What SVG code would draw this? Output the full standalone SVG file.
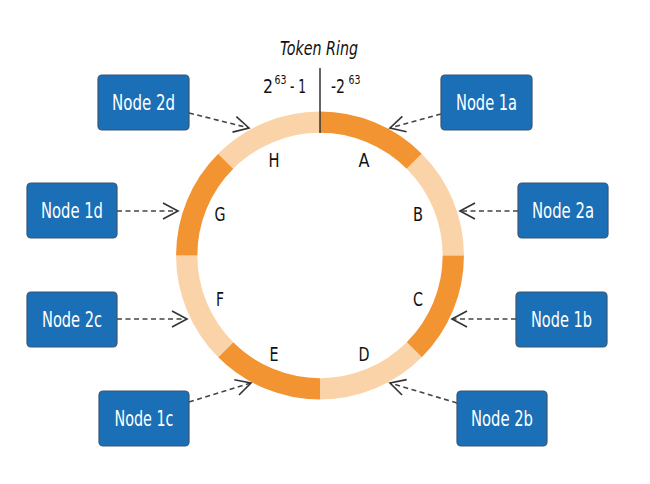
<svg xmlns="http://www.w3.org/2000/svg" width="650" height="484" viewBox="0 0 650 484">
<defs>
<style>
.box{fill:#1a6fb6;stroke:#3a5573;stroke-width:1.2}
.bt{fill:#ffffff;font-family:"DejaVu Sans","Liberation Sans",sans-serif;font-stretch:condensed;font-size:21px;text-anchor:middle}
.lbl{fill:#111;font-family:"DejaVu Sans","Liberation Sans",sans-serif;font-stretch:condensed;font-size:19px;text-anchor:middle}
.st{fill:#111;font-family:"DejaVu Sans","Liberation Sans",sans-serif;font-size:19px}
.sup{fill:#111;font-family:"DejaVu Sans","Liberation Sans",sans-serif;font-size:12px}
.dk{fill:none;stroke:#f39433;stroke-width:21.3}
.lt{fill:none;stroke:#fad3a9;stroke-width:21.3}
.con{fill:none;stroke:#444;stroke-width:1.6;stroke-dasharray:5 3.5;marker-end:url(#arr)}
</style>
<marker id="arr" markerUnits="userSpaceOnUse" markerWidth="20" markerHeight="20" viewBox="-17 -10 20 20" refX="0" refY="0" orient="auto">
<path d="M-15,-8 L0,0 L-15,8" fill="none" stroke="#333" stroke-width="1.6"/>
</marker>
</defs>
<g id="ring">
<path class="dk" d="M320,122.2 A133.3,133.3 0 0 1 414.26,161.24"/>
<path class="lt" d="M414.26,161.24 A133.3,133.3 0 0 1 453.3,255.5"/>
<path class="dk" d="M453.3,255.5 A133.3,133.3 0 0 1 414.26,349.76"/>
<path class="lt" d="M414.26,349.76 A133.3,133.3 0 0 1 320,388.8"/>
<path class="dk" d="M320,388.8 A133.3,133.3 0 0 1 225.74,349.76"/>
<path class="lt" d="M225.74,349.76 A133.3,133.3 0 0 1 186.7,255.5"/>
<path class="dk" d="M186.7,255.5 A133.3,133.3 0 0 1 225.74,161.24"/>
<path class="lt" d="M225.74,161.24 A133.3,133.3 0 0 1 320,122.2"/>
<line x1="320" y1="68" x2="320" y2="133" stroke="#333" stroke-width="1.5"/>
<text class="lbl" x="364" y="167" textLength="11" lengthAdjust="spacingAndGlyphs">A</text>
<text class="lbl" x="418" y="221" textLength="10" lengthAdjust="spacingAndGlyphs">B</text>
<text class="lbl" x="418" y="306" textLength="10" lengthAdjust="spacingAndGlyphs">C</text>
<text class="lbl" x="364" y="361" textLength="11" lengthAdjust="spacingAndGlyphs">D</text>
<text class="lbl" x="274" y="361" textLength="9" lengthAdjust="spacingAndGlyphs">E</text>
<text class="lbl" x="220" y="306" textLength="8" lengthAdjust="spacingAndGlyphs">F</text>
<text class="lbl" x="220" y="221" textLength="11" lengthAdjust="spacingAndGlyphs">G</text>
<text class="lbl" x="274" y="167" textLength="11" lengthAdjust="spacingAndGlyphs">H</text>
<text class="lbl" x="319" y="55" font-size="20" font-style="italic" textLength="78" lengthAdjust="spacingAndGlyphs">Token Ring</text>
<text class="st" x="263" y="93" textLength="10" lengthAdjust="spacingAndGlyphs">2</text>
<text class="sup" x="274.5" y="84" textLength="12" lengthAdjust="spacingAndGlyphs">63</text>
<text class="st" x="290" y="93" textLength="16" lengthAdjust="spacingAndGlyphs">- 1</text>
<text class="st" x="331" y="93" textLength="14" lengthAdjust="spacingAndGlyphs">-2</text>
<text class="sup" x="348.5" y="84" textLength="12" lengthAdjust="spacingAndGlyphs">63</text>
</g>
<g id="connectors">
<path class="con" d="M189,113 L249,128"/>
<path class="con" d="M441,114 L390,128"/>
<path class="con" d="M117,211 L178,211"/>
<path class="con" d="M518,211 L460,211"/>
<path class="con" d="M117,319 L187,319"/>
<path class="con" d="M516,319 L452,319"/>
<path class="con" d="M189,402 L251,383"/>
<path class="con" d="M457,403 L390,383"/>
</g>
<g id="node2d"><rect class="box" x="98" y="75" width="91" height="55" rx="4"/><text class="bt" x="143.5" y="109.5" textLength="63" lengthAdjust="spacingAndGlyphs">Node 2d</text></g>
<g id="node1a"><rect class="box" x="441" y="75" width="91" height="55" rx="4"/><text class="bt" x="486.5" y="109.5" textLength="61" lengthAdjust="spacingAndGlyphs">Node 1a</text></g>
<g id="node1d"><rect class="box" x="27" y="183" width="90" height="55" rx="4"/><text class="bt" x="72" y="217.5" textLength="62" lengthAdjust="spacingAndGlyphs">Node 1d</text></g>
<g id="node2a"><rect class="box" x="518" y="183" width="90" height="55" rx="4"/><text class="bt" x="563" y="217.5" textLength="62" lengthAdjust="spacingAndGlyphs">Node 2a</text></g>
<g id="node2c"><rect class="box" x="27" y="292" width="90" height="55" rx="4"/><text class="bt" x="72" y="326.5" textLength="60" lengthAdjust="spacingAndGlyphs">Node 2c</text></g>
<g id="node1b"><rect class="box" x="516" y="292" width="91" height="55" rx="4"/><text class="bt" x="561.5" y="326.5" textLength="61" lengthAdjust="spacingAndGlyphs">Node 1b</text></g>
<g id="node1c"><rect class="box" x="99" y="391" width="90" height="55" rx="4"/><text class="bt" x="144" y="425.5" textLength="59" lengthAdjust="spacingAndGlyphs">Node 1c</text></g>
<g id="node2b"><rect class="box" x="457" y="391" width="90" height="55" rx="4"/><text class="bt" x="502" y="425.5" textLength="62" lengthAdjust="spacingAndGlyphs">Node 2b</text></g>
</svg>
